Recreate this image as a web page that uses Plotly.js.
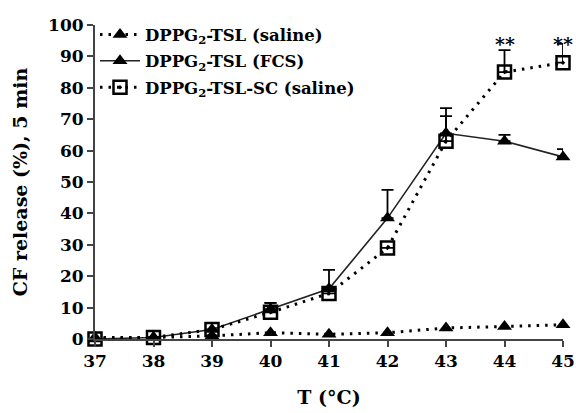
<!DOCTYPE html>
<html><head><meta charset="utf-8">
<script src="https://cdn.plot.ly/plotly-3.0.1.min.js"></script>
<style>body{margin:0;background:#fff}#c{width:576px;height:413px}</style>
</head><body><div id="c"></div>
<script>
const temps = [37, 38, 39, 40, 41, 42, 43, 44, 45];
const salineVals = [0.5, 0.5, 1, 2, 1.5, 2, 3.5, 4, 4.5];
const fcsVals = [0, 0.5, 3, 9.5, 16, 38.5, 65.5, 63, 58];
const fcsErr = [0, 0, 0, 2, 6, 9, 8, 2, 2.5];
const scVals = [0, 0.5, 3, 8.5, 14.5, 29, 63, 85, 88];
const scErr = [0, 0, 0, 3, 0, 0, 8, 7, 6];
const zeros = temps.map(() => 0);
const sigX = [44, 45];
const sigY = [94, 94];
const sigText = ['**', '**'];
const yTicks = [0, 10, 20, 30, 40, 50, 60, 70, 80, 90, 100];

const serif = 'DejaVu Serif, Liberation Serif, serif';
const dotDash = '2.5px,6px';

const traces = [
  {
    x: temps, y: salineVals, name: 'DPPG<sub>2</sub>-TSL (saline)', legendgroup: 'a',
    mode: 'lines+markers', cliponaxis: false,
    line: {color: '#000', width: 3, dash: dotDash},
    marker: {symbol: 'triangle-up', size: 13, color: '#000'}
  },
  {
    x: temps, y: fcsVals, name: 'DPPG<sub>2</sub>-TSL (FCS)', legendgroup: 'b',
    mode: 'lines+markers', cliponaxis: false,
    line: {color: '#222', width: 1.6},
    marker: {symbol: 'triangle-up', size: 13, color: '#000'},
    error_y: {type: 'data', symmetric: false, array: fcsErr, arrayminus: zeros, color: '#000', thickness: 1.8, width: 6}
  },
  {
    x: temps, y: scVals, name: 'DPPG<sub>2</sub>-TSL-SC (saline)', legendgroup: 'c',
    mode: 'lines+markers', cliponaxis: false,
    line: {color: '#000', width: 3, dash: dotDash},
    marker: {symbol: 'square-open-dot', size: 13, color: '#000', line: {width: 2.5, color: '#000'}},
    error_y: {type: 'data', symmetric: false, array: scErr, arrayminus: zeros, color: '#000', thickness: 1.8, width: 6}
  }
];

const annotations = sigX.map((x, i) => ({
  x: x, y: sigY[i], text: sigText[i], showarrow: false,
  font: {family: serif, size: 19, color: '#000', weight: 'bold'}
}));

const layout = {
  width: 576, height: 413,
  margin: {l: 95, r: 13, t: 25, b: 74},
  paper_bgcolor: '#fff', plot_bgcolor: '#fff',
  showlegend: true,
  legend: {
    x: 0.0, y: 1.025, xanchor: 'left', yanchor: 'top',
    bgcolor: 'rgba(0,0,0,0)',
    font: {family: serif, size: 16.5, color: '#000', weight: 'bold'},
    itemwidth: 40, tracegroupgap: 2
  },
  xaxis: {
    range: [37, 45], tickvals: temps, ticktext: temps.map(String),
    ticklabeloverflow: 'allow',
    showgrid: false, zeroline: false,
    showline: true, linecolor: '#444', linewidth: 2,
    ticks: 'outside', ticklen: 6, tickwidth: 2, tickcolor: '#444',
    tickfont: {family: serif, size: 17, color: '#000', weight: 'bold'},
    title: {text: 'T (°C)', font: {family: serif, size: 19, color: '#000', weight: 'bold'}, standoff: 20}
  },
  yaxis: {
    range: [0, 100], tickvals: yTicks,
    showgrid: false, zeroline: false,
    showline: true, linecolor: '#444', linewidth: 2,
    ticks: 'outside', ticklen: 6, tickwidth: 2, tickcolor: '#444',
    tickfont: {family: serif, size: 17, color: '#000', weight: 'bold'},
    title: {text: 'CF release (%), 5 min', font: {family: serif, size: 19, color: '#000', weight: 'bold'}, standoff: 15}
  },
  annotations: annotations
};

Plotly.newPlot('c', traces, layout, {displayModeBar: false, staticPlot: true});
</script>
</body></html>
